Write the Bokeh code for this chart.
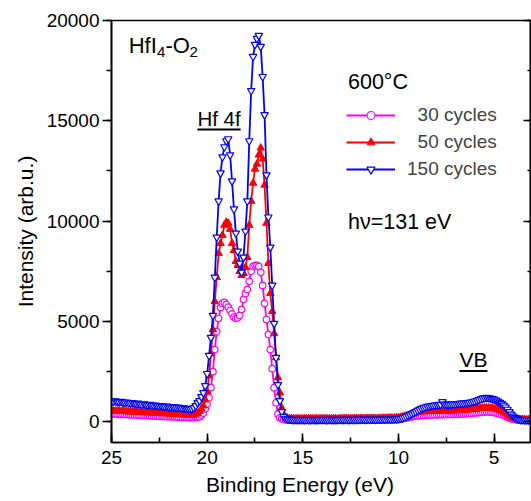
import numpy as np
from bokeh.plotting import figure
from bokeh.models import (Range1d, LinearAxis, SingleIntervalTicker, Label,
                          BoxAnnotation, Legend, LegendItem)
from bokeh.embed import file_html
from bokeh.resources import INLINE

# Binding energy grid (eV), 25.0 down to 3.0 in 0.1 eV steps
energy = np.round(np.arange(250, 29, -1) / 10.0, 1)

# 30 cycles (magenta, open circles)
cyc30 = [
    400, 390, 395, 380, 385, 370, 375, 360, 365, 350,
    355, 340, 345, 330, 335, 320, 325, 310, 315, 300,
    305, 295, 300, 285, 290, 275, 280, 265, 270, 255,
    260, 250, 255, 240, 245, 230, 235, 220, 225, 215,
    215, 205, 210, 205, 215, 220, 250, 330, 430, 650,
    880, 1200, 1700, 2500, 3600, 4500, 5150, 5700, 5900, 5950,
    5850, 5720, 5550, 5380, 5220, 5150, 5180, 5300, 5600, 6100,
    6400, 6600, 7000, 7500, 7750, 7800, 7800, 7750, 7450, 6800,
    5900, 5100, 4350, 3600, 2650, 1700, 950, 380, 200, 150,
    120, 100, 90, 80, 80, 80, 70, 80, 80, 70,
    80, 70, 80, 80, 70, 80, 80, 70, 80, 80,
    80, 80, 70, 80, 80, 80, 70, 80, 80, 80,
    80, 80, 90, 80, 80, 90, 80, 80, 90, 80,
    90, 80, 90, 90, 80, 90, 90, 90, 90, 100,
    90, 100, 100, 90, 100, 100, 110, 100, 110, 110,
    120, 130, 150, 170, 190, 210, 230, 250, 270, 280,
    290, 300, 310, 320, 330, 330, 340, 340, 345, 345,
    350, 350, 355, 355, 360, 360, 360, 365, 370, 370,
    375, 380, 385, 390, 395, 400, 405, 410, 420, 430,
    440, 450, 460, 470, 480, 485, 490, 490, 485, 475,
    460, 440, 420, 390, 360, 330, 280, 230, 190, 150,
    130, 110, 100, 90, 85, 80, 80, 80, 80, 80,
    80,
]

# 50 cycles (red, filled triangles)
cyc50 = [
    560, 540, 550, 530, 545, 520, 535, 510, 525, 500,
    515, 495, 505, 480, 495, 470, 485, 460, 475, 455,
    465, 445, 455, 430, 445, 420, 435, 410, 425, 400,
    410, 390, 400, 375, 390, 365, 380, 355, 365, 340,
    350, 330, 340, 360, 390, 420, 520, 650, 800, 1100,
    1500, 2300, 3400, 4600, 6000, 7200, 8400, 8900, 9300, 9800,
    9950, 9900, 9600, 8900, 8550, 8000, 7800, 7500, 7300, 7400,
    7700, 8200, 9800, 11000, 11900, 12600, 12850, 13300, 13650, 13100,
    11800, 9900, 7900, 6400, 5500, 4400, 3200, 2200, 1450, 700,
    350, 230, 180, 170, 160, 160, 150, 160, 150, 150,
    150, 160, 150, 150, 160, 150, 150, 160, 150, 160,
    150, 160, 160, 150, 160, 150, 160, 160, 150, 160,
    160, 160, 170, 160, 160, 170, 160, 170, 170, 160,
    170, 170, 160, 170, 180, 170, 170, 180, 170, 180,
    180, 180, 190, 180, 190, 190, 200, 190, 200, 210,
    210, 230, 250, 270, 300, 330, 360, 390, 420, 450,
    470, 490, 500, 510, 520, 520, 530, 530, 530, 540,
    540, 540, 550, 540, 550, 550, 540, 550, 560, 560,
    560, 570, 570, 580, 590, 590, 600, 610, 620, 630,
    640, 650, 660, 680, 690, 700, 700, 700, 690, 680,
    660, 640, 610, 580, 540, 490, 430, 360, 290, 230,
    190, 160, 140, 130, 120, 120, 110, 110, 110, 110,
    110,
]

# 150 cycles (blue, open inverted triangles)
cyc150 = [
    1050, 1020, 1040, 1000, 990, 1010, 970, 960, 980, 940,
    930, 950, 910, 900, 920, 880, 870, 890, 850, 840,
    860, 820, 810, 830, 800, 790, 800, 770, 760, 780,
    750, 740, 750, 720, 710, 720, 690, 680, 690, 660,
    650, 640, 650, 700, 800, 950, 1050, 1250, 1450, 1800,
    2400, 3300, 4200, 5300, 7200, 9200, 11000, 12400, 13200, 13700,
    14000, 14100, 13300, 12000, 10600, 9400, 8500, 7900, 7450, 8200,
    9500, 11000, 14000, 16500, 18200, 18800, 19100, 19250, 18700, 17200,
    15300, 12300, 10200, 8700, 6800, 4900, 3200, 1850, 1050, 500,
    260, 170, 130, 120, 110, 100, 110, 100, 100, 110,
    100, 100, 110, 100, 100, 110, 100, 100, 100, 110,
    100, 110, 100, 100, 110, 100, 110, 100, 100, 110,
    110, 100, 110, 110, 100, 110, 110, 100, 110, 110,
    110, 120, 110, 110, 120, 110, 120, 120, 110, 120,
    120, 120, 130, 120, 130, 130, 120, 130, 140, 140,
    150, 170, 190, 220, 260, 300, 350, 400, 450, 500,
    560, 610, 660, 700, 730, 760, 780, 800, 810, 830,
    840, 850, 860, 1000, 880, 870, 860, 870, 880, 880,
    890, 900, 910, 920, 930, 940, 950, 960, 980, 1000,
    1030, 1060, 1100, 1140, 1170, 1200, 1210, 1200, 1180, 1150,
    1120, 1080, 1020, 960, 900, 820, 730, 620, 500, 380,
    280, 200, 150, 120, 100, 100, 90, 90, 90, 90,
    90,
]

series_labels = ["\u200730 cycles", "\u200750 cycles", "150 cycles"]

FONT = "Liberation Sans"

p = figure(width=531, height=501, output_backend="svg", toolbar_location=None,
           x_range=Range1d(25, 3.1), y_range=Range1d(-1030, 20000),
           min_border_left=111, min_border_right=1, min_border_top=20,
           min_border_bottom=59, x_axis_type=None, y_axis_type=None)
p.grid.visible = False
p.outline_line_color = "black"
p.outline_line_width = 1.6
p.background_fill_color = "white"
p.border_fill_color = "white"

# axes
xax = LinearAxis(ticker=SingleIntervalTicker(interval=5, num_minor_ticks=2))
xax.major_tick_in = 9
xax.major_tick_out = 0
xax.minor_tick_in = 5
xax.minor_tick_out = 0
xax.major_label_standoff = 8
# trailing em spaces shift the centred title left, as in the original
xax.axis_label = "Binding Energy (eV)\u2003\u2003"
xax.axis_label_standoff = 6
p.add_layout(xax, "below")

yax = LinearAxis(ticker=SingleIntervalTicker(interval=5000, num_minor_ticks=2))
yax.major_tick_in = 0
yax.major_tick_out = 9
yax.minor_tick_in = 0
yax.minor_tick_out = 5
yax.major_label_standoff = 3
yax.axis_label = "Intensity (arb.u.)"
yax.axis_label_standoff = 7
p.add_layout(yax, "left")

rax = LinearAxis(ticker=SingleIntervalTicker(interval=5000, num_minor_ticks=2))
rax.major_tick_in = 7
rax.major_tick_out = 0
rax.minor_tick_in = 3
rax.minor_tick_out = 0
rax.major_label_text_color = None
rax.major_label_standoff = 0
p.add_layout(rax, "right")

for ax in (xax, yax, rax):
    ax.axis_line_width = 1.6
    ax.major_tick_line_width = 1.6
    ax.minor_tick_line_width = 1.6
    ax.axis_line_color = "black"
    ax.major_tick_line_color = "black"
    ax.minor_tick_line_color = "black"
for ax in (xax, yax):
    ax.major_label_text_font = FONT
    ax.major_label_text_font_size = "19px"
    ax.major_label_text_color = "black"
    ax.axis_label_text_font = FONT
    ax.axis_label_text_font_size = "21px"
    ax.axis_label_text_font_style = "normal"
    ax.axis_label_text_color = "black"

# data
l30 = p.line(energy, cyc30, line_color="#ff00ff", line_width=1.8)
s30 = p.scatter(energy, cyc30, marker="circle", size=6.5, line_color="#ff00ff",
                fill_color="white", line_width=1.2)
l50 = p.line(energy, cyc50, line_color="#ff0000", line_width=1.8)
s50 = p.scatter(energy, cyc50, marker="triangle", size=7.5, line_color="#ff0000",
                fill_color="#ff0000", line_width=1)
l150 = p.line(energy, cyc150, line_color="#0000ff", line_width=1.8)
s150 = p.scatter(energy, cyc150, marker="inverted_triangle", size=7.5,
                 line_color="#0000ff", fill_color="white", line_width=1.2)

legend = Legend(items=[
    LegendItem(label=series_labels[0], renderers=[l30, s30]),
    LegendItem(label=series_labels[1], renderers=[l50, s50]),
    LegendItem(label=series_labels[2], renderers=[l150, s150]),
], location=(235, 262))
legend.glyph_width = 49
legend.glyph_height = 20
legend.label_height = 20
legend.spacing = 5
legend.padding = 0
legend.margin = 0
legend.label_standoff = 12
legend.label_text_font = FONT
legend.label_text_font_size = "19px"
legend.background_fill_alpha = 0
legend.border_line_alpha = 0
p.add_layout(legend, "center")

def lab(text, x, y, size, align="left"):
    p.add_layout(Label(x=x, y=y, text=text, text_font=FONT, text_font_size=size,
                       text_align=align, text_baseline="middle",
                       text_color="black"))

# HfI4-O2
lab("HfI", 24.10, 18740, "22px")
lab("4", 22.62, 18410, "15px")
lab("-O", 22.18, 18740, "22px")
lab("2", 20.92, 18410, "15px")
# Hf 4f
lab("Hf 4f", 20.51, 15100, "20.5px")
p.add_layout(BoxAnnotation(left=20.51, right=18.25, bottom=14520, top=14620,
                           fill_color="black", fill_alpha=1, line_alpha=0))
# 600 C and photon energy
lab("600\u00b0C", 12.64, 16950, "21.5px")
lab("h\u03bd=131 eV", 12.64, 9965, "21.5px")
# VB
lab("VB", 6.81, 3085, "21px")
p.add_layout(BoxAnnotation(left=6.81, right=5.35, bottom=2480, top=2580,
                           fill_color="black", fill_alpha=1, line_alpha=0))

open("out.html", "w").write(file_html(p, INLINE))
